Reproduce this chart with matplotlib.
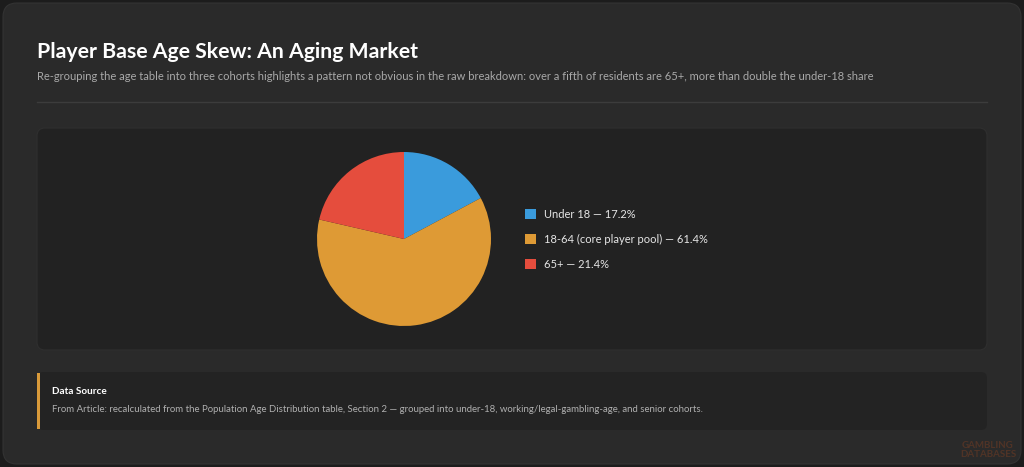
import matplotlib
matplotlib.use("Agg")
import matplotlib.pyplot as plt
from matplotlib.patches import FancyBboxPatch, Rectangle

plt.rcParams['font.family'] = ['Lato', 'DejaVu Sans']

# data
cohorts = ['Under 18', '18-64 (core player pool)', '65+']
shares = [17.2, 61.4, 21.4]
colors = ['#3a9bdc', '#de9a35', '#e54d3d']

title = 'Player Base Age Skew: An Aging Market'
subtitle = ('Re-grouping the age table into three cohorts highlights a pattern not obvious in the raw breakdown: '
            'over a fifth of residents are 65+, more than double the under-18 share')
source_head = 'Data Source'
source_text = ('From Article: recalculated from the Population Age Distribution table, Section 2 \u2014 grouped into '
               'under-18, working/legal-gambling-age, and senior cohorts.')

W, H = 1024, 467
fig = plt.figure(figsize=(W / 100, H / 100), dpi=100, facecolor='#1c1c1c')

# background canvas in pixel coords
bg = fig.add_axes([0, 0, 1, 1])
bg.set_xlim(0, W)
bg.set_ylim(H, 0)
bg.axis('off')

bg.add_patch(FancyBboxPatch((3, 3), W - 6, H - 6, boxstyle='round,pad=0,rounding_size=14',
                            fc='#2a2a2a', ec='#333333', lw=0.8))
bg.text(37, 52, title, fontsize=15.3, fontweight='bold', color='white', va='center', ha='left')
bg.text(37, 77, subtitle, fontsize=8.0, color='#a9a9a9', va='center', ha='left')
bg.plot([37, 987], [102, 102], color='#3c3c3c', lw=1)

# chart panel
bg.add_patch(FancyBboxPatch((37, 128), 950, 222, boxstyle='round,pad=0,rounding_size=8',
                            fc='#222222', ec='#2f2f2f', lw=0.8))

# source box
bg.add_patch(FancyBboxPatch((37, 372), 950, 58, boxstyle='round,pad=0,rounding_size=6',
                            fc='#232323', ec='none'))
bg.add_patch(Rectangle((37, 373), 2.5, 56, fc='#d99a3a', ec='none'))
bg.text(52, 392, source_head, fontsize=7.2, fontweight='bold', color='white', va='center')
bg.text(52, 410, source_text, fontsize=6.9, color='#b0b0b0', va='center')

# faint watermark
bg.text(988, 450, 'GAMBLING\nDATABASES', fontsize=7, color='#6a3a24', alpha=0.6,
        ha='center', va='center', fontweight='bold', linespacing=0.9)

# pie
cx, cy, r = 404, 239, 87
pax = fig.add_axes([(cx - r) / W, 1 - (cy + r) / H, 2 * r / W, 2 * r / H])
wedges, _ = pax.pie(shares, colors=colors, startangle=90, counterclock=False,
                    wedgeprops=dict(linewidth=0))
pax.set_xlim(-1, 1)
pax.set_ylim(-1, 1)
pax.set_aspect('equal')
pax.axis('off')

labels = [f'{c} \u2014 {s}%' for c, s in zip(cohorts, shares)]
fig.legend(wedges, labels, loc='upper left', bbox_to_anchor=(515 / W, 1 - 199 / H),
           frameon=False, fontsize=8, labelcolor='#e6e6e6', handlelength=1.0,
           handleheight=1.0, handletextpad=0.7, labelspacing=1.25)

fig.savefig('out.png', dpi=100, facecolor=fig.get_facecolor())
